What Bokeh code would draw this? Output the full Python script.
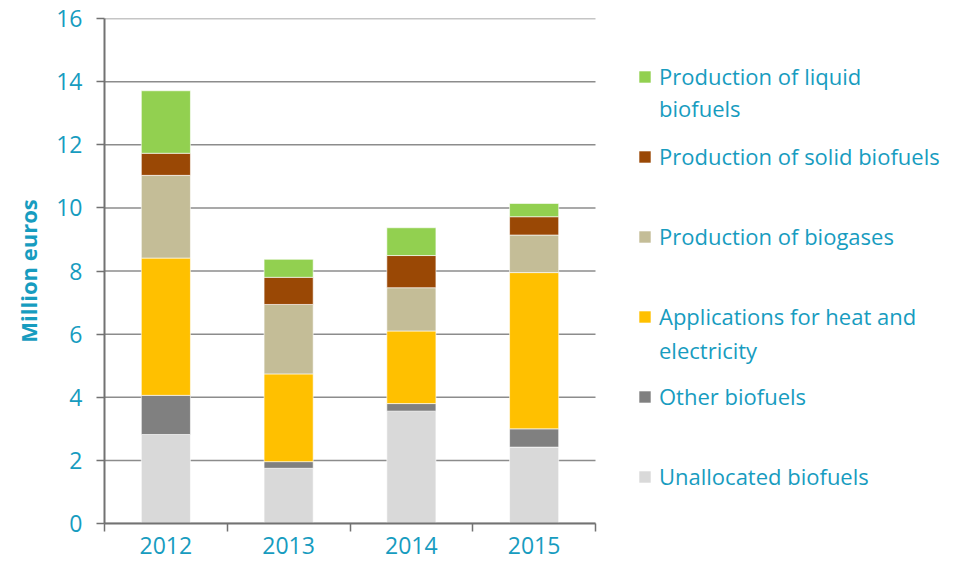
from bokeh.plotting import figure
from bokeh.models import Range1d, FixedTicker, Legend, LegendItem, ColumnDataSource
from bokeh.embed import file_html
from bokeh.resources import INLINE

years = ["2012", "2013", "2014", "2015"]
unallocated = [2.82, 1.75, 3.56, 2.42]
other = [1.24, 0.21, 0.24, 0.58]
heat_elec = [4.35, 2.78, 2.30, 4.95]
biogases = [2.62, 2.20, 1.37, 1.19]
solid = [0.70, 0.86, 1.02, 0.58]
liquid = [1.98, 0.57, 0.88, 0.42]

series_names = ["unallocated", "other", "heat_elec", "biogases", "solid", "liquid"]
label_first = ["Unallocated biofuels", "Other biofuels", "Applications for heat and",
               "Production of biogases", "Production of solid biofuels", "Production of liquid"]
label_second = {"heat_elec": "electricity", "liquid": "biofuels"}
colors = ["#D9D9D9", "#808080", "#FFC000", "#C4BD97", "#9A4805", "#92D050"]
y_ticks = [0, 2, 4, 6, 8, 10, 12, 14, 16]

TEAL = "#179cbf"
AXIS = "#727272"
GRID = "#8c8c8c"
FONT = "Open Sans"

W, H = 947, 561
LEFT, TOP, BOTTOM = 104, 18, 38
CHART_RIGHT = 595  # where the category axis ends

n = len(years)
centers = [i + 0.5 for i in range(n)]
bounds = [i for i in range(n + 1)]
x_end = n * (W - LEFT) / (CHART_RIGHT - LEFT)

src = ColumnDataSource(dict(x=centers, unallocated=unallocated, other=other,
                            heat_elec=heat_elec, biogases=biogases,
                            solid=solid, liquid=liquid))

p = figure(width=W, height=H, x_range=Range1d(0, x_end), y_range=Range1d(0, 16),
           output_backend="svg", toolbar_location=None,
           min_border_left=LEFT, min_border_top=TOP, min_border_bottom=BOTTOM, min_border_right=0)
p.outline_line_color = None
p.background_fill_color = "white"
p.xgrid.visible = False
p.ygrid.visible = False

# horizontal gridlines limited to the category span
p.segment(x0=[0] * len(y_ticks), x1=[n] * len(y_ticks), y0=y_ticks, y1=y_ticks,
          line_color=GRID, line_width=1.5, level="underlay")

renderers = p.vbar_stack(series_names, x="x", width=0.4, source=src, color=colors,
                         line_color="white", line_width=0.6)

# invisible renderer for legend continuation lines
blank = p.scatter(x=[], y=[], size=1, fill_alpha=0, line_alpha=0)

# axes
p.xaxis.bounds = (0, n)
p.xaxis.ticker = FixedTicker(ticks=centers, minor_ticks=bounds)
p.xaxis.major_label_overrides = {c: y for c, y in zip(centers, years)}
p.xaxis.major_tick_line_color = None
p.xaxis.major_tick_out = 0
p.xaxis.major_tick_in = 0
p.xaxis.minor_tick_out = 8
p.xaxis.minor_tick_in = 0
p.xaxis.minor_tick_line_color = AXIS
p.xaxis.minor_tick_line_width = 1.5
p.xaxis.major_label_standoff = 5

p.yaxis.ticker = FixedTicker(ticks=y_ticks, minor_ticks=[])
p.yaxis.major_tick_out = 8
p.yaxis.major_tick_in = 0
p.yaxis.major_tick_line_color = AXIS
p.yaxis.major_tick_line_width = 1.5
p.yaxis.minor_tick_line_color = None
p.yaxis.major_label_standoff = 14
p.yaxis.axis_label = "Million euros"
p.yaxis.axis_label_text_font = FONT
p.yaxis.axis_label_text_font_style = "bold"
p.yaxis.axis_label_text_font_size = "22px"
p.yaxis.axis_label_text_color = TEAL
p.yaxis.axis_label_standoff = 10

for ax in (p.xaxis, p.yaxis):
    ax.axis_line_color = AXIS
    ax.axis_line_width = 2
    ax.major_label_text_font = FONT
    ax.major_label_text_font_size = "23px"
    ax.major_label_text_color = TEAL

legend_style = dict(margin=0, padding=0, label_text_font=FONT, label_text_font_size="22px",
                    label_text_color=TEAL, glyph_width=15, glyph_height=15,
                    label_standoff=7, label_height=30,
                    border_line_color=None, background_fill_alpha=0)

items = [LegendItem(label=lab, renderers=[r]) for lab, r in zip(label_first, renderers)][::-1]
legend = Legend(items=items, location=(533, 32), spacing=50, **legend_style)
p.add_layout(legend)

items2 = [LegendItem(label=label_second[k], renderers=[blank])
          for k in ["liquid", "heat_elec"]]
legend2 = Legend(items=items2, location=(533, 158), spacing=212, **legend_style)
p.add_layout(legend2)

open("out.html", "w").write(file_html(p, INLINE))
